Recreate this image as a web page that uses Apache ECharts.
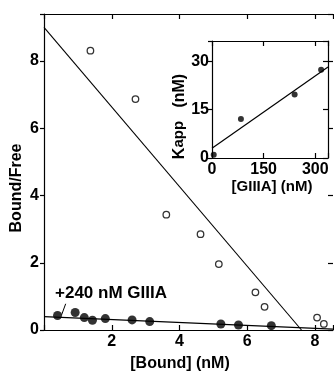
<!DOCTYPE html>
<html><head><meta charset="utf-8">
<script src="https://cdn.jsdelivr.net/npm/echarts@6/dist/echarts.min.js"></script>
<style>html,body{margin:0;padding:0;background:#fff}#c{width:334px;height:374px}</style>
</head><body><div id="c"></div>
<script>
// Main plot: Scatchard data (Bound nM, Bound/Free)
const openBound = [1.37, 2.70, 3.61, 4.62, 5.16, 6.24, 6.51, 8.06, 8.26];
const openRatio = [8.31, 6.87, 3.43, 2.85, 1.96, 1.12, 0.69, 0.37, 0.18];
const openFitX = [0, 7.6];
const openFitY = [9.0, 0];
const filledBound = [0.40, 0.92, 1.19, 1.43, 1.81, 2.60, 3.12, 5.22, 5.74, 6.71];
const filledRatio = [0.43, 0.52, 0.37, 0.29, 0.34, 0.30, 0.25, 0.18, 0.15, 0.13];
const filledFitX = [0, 8.53];
const filledFitY = [0.40, 0.025];
const leaderX = [0.64, 0.52];
const leaderY = [0.78, 0.45];
// Inset: Kapp vs [GIIIA]
const gConc = [5, 84, 240, 317];
const kapp = [1, 12.1, 19.7, 27.4];
const kFitX = [0, 337];
const kFitY = [3.0, 28.2];
const mainXTicks = [2, 4, 6, 8];
const mainYTicks = [0, 2, 4, 6, 8];
const insetXTicks = [0, 150, 300];
const insetYTicks = [0, 15, 30];
const annotation = '+240 nM GIIIA';

const zip = (a, b) => a.map((v, i) => [v, b[i]]);
const FONT = 'Liberation Sans';
const txt = (size) => ({color: '#000', fontFamily: FONT, fontSize: size, fontWeight: 'bold'});

const chart = echarts.init(document.getElementById('c'), null, {renderer: 'canvas'});
const inList = list => (v => list.indexOf(v) >= 0);
const mainXShow = inList(mainXTicks), mainYShow = inList(mainYTicks);
const insXShow = inList(insetXTicks), insYShow = inList(insetYTicks);
const line = {onZero: false, lineStyle: {color: '#000', width: 1.2}};
const tick = (inside, len) => ({show: true, inside: inside, length: len, lineStyle: {color: '#000', width: 1.2}});

chart.setOption({
  animation: false,
  backgroundColor: '#fff',
  grid: [
    {left: 44, top: 14, right: 1, bottom: 44, containLabel: false, outerBoundsMode: 'none'},
    {left: 212, top: 41, right: 6, bottom: 216, containLabel: false, outerBoundsMode: 'none',
     show: true, backgroundColor: '#fff', borderWidth: 0}
  ],
  xAxis: [
    {gridIndex: 0, type: 'value', min: 0, max: 8.53, interval: 2, position: 'bottom',
     axisLine: line, splitLine: {show: false}, axisTick: tick(true, 5),
     axisLabel: Object.assign({margin: 4, formatter: v => (mainXShow(v) ? String(v) : '')}, txt(16)),
     name: '[Bound] (nM)', nameLocation: 'middle', nameGap: 26,
     nameTextStyle: Object.assign({padding: [0, 17, 0, 0]}, txt(16))},
    {gridIndex: 0, type: 'value', min: 0, max: 8.53, interval: 2, position: 'top',
     axisLine: line, splitLine: {show: false}, axisTick: tick(true, 5),
     axisLabel: {show: false}},
    {gridIndex: 1, type: 'value', min: 0, max: 337, interval: 150, position: 'bottom',
     axisLine: line, splitLine: {show: false}, axisTick: tick(true, 5),
     axisLabel: Object.assign({margin: 4, formatter: v => (insXShow(v) ? String(v) : '')}, txt(16)),
     name: '[GIIIA] (nM)', nameLocation: 'middle', nameGap: 20,
     nameTextStyle: Object.assign({padding: [0, 0, 0, 4]}, txt(15))},
    {gridIndex: 1, type: 'value', min: 0, max: 337, interval: 150, position: 'top',
     axisLine: line, splitLine: {show: false}, axisTick: tick(true, 5),
     axisLabel: {show: false}}
  ],
  yAxis: [
    {gridIndex: 0, type: 'value', min: 0, max: 9.4, interval: 2, position: 'left',
     axisLine: line, splitLine: {show: false}, axisTick: tick(false, 4),
     axisLabel: Object.assign({margin: 5, formatter: v => (mainYShow(v) ? String(v) : '')}, txt(16)),
     name: 'Bound/Free', nameLocation: 'middle', nameGap: 19, nameRotate: 90, nameMoveOverlap: false,
     nameTextStyle: Object.assign({padding: [0, 32, 0, 0]}, txt(16))},
    {gridIndex: 0, type: 'value', min: 0, max: 9.4, interval: 2, position: 'right',
     axisLine: {show: false, onZero: false}, splitLine: {show: false}, axisTick: tick(true, 5),
     axisLabel: {show: false}},
    {gridIndex: 1, type: 'value', min: 0, max: 36.3, interval: 15, position: 'left',
     axisLine: line, splitLine: {show: false}, axisTick: tick(false, 4),
     axisLabel: Object.assign({margin: 3, formatter: v => (insYShow(v) ? String(v) : '')}, txt(16)),
     name: '{k|K}{s|app}   {k|(nM)}', nameLocation: 'middle', nameGap: 22, nameRotate: 90,
     nameTextStyle: Object.assign({padding: [0, 34, 0, 0]}, txt(16), {rich: {
       k: {fontFamily: FONT, fontSize: 16, fontWeight: 'bold', color: '#000'},
       s: {fontFamily: FONT, fontSize: 15, fontWeight: 'bold', color: '#000'}
     }})},
    {gridIndex: 1, type: 'value', min: 0, max: 36.3, interval: 15, position: 'right',
     axisLine: line, splitLine: {show: false}, axisTick: tick(true, 5),
     axisLabel: {show: false}}
  ],
  series: [
    {type: 'line', xAxisIndex: 0, yAxisIndex: 0, data: zip(openFitX, openFitY), symbol: 'none',
     lineStyle: {color: '#000', width: 1.1}, z: 3},
    {type: 'line', xAxisIndex: 0, yAxisIndex: 0, data: zip(filledFitX, filledFitY), symbol: 'none',
     lineStyle: {color: '#000', width: 1.3}, z: 3},
    {type: 'line', xAxisIndex: 0, yAxisIndex: 0, data: zip(leaderX, leaderY), symbol: 'none',
     lineStyle: {color: '#000', width: 1}, z: 3},
    {type: 'scatter', xAxisIndex: 0, yAxisIndex: 0, data: zip(openBound, openRatio), symbol: 'circle',
     symbolSize: 6.5, itemStyle: {color: '#fff', borderColor: '#000', borderWidth: 1.3}, z: 4},
    {type: 'scatter', xAxisIndex: 0, yAxisIndex: 0, data: zip(filledBound, filledRatio), symbol: 'circle',
     symbolSize: 9, itemStyle: {color: '#000'}, z: 4},
    {type: 'line', xAxisIndex: 2, yAxisIndex: 2, data: zip(kFitX, kFitY), symbol: 'none',
     lineStyle: {color: '#000', width: 1.2}, z: 3},
    {type: 'scatter', xAxisIndex: 2, yAxisIndex: 2, data: zip(gConc, kapp), symbol: 'circle',
     symbolSize: 6, itemStyle: {color: '#000'}, z: 4}
  ],
  graphic: [
    {type: 'text', left: 55, top: 285, style: {text: annotation, fill: '#000',
      font: 'bold 17px "Liberation Sans"'}}
  ]
});
</script></body></html>
